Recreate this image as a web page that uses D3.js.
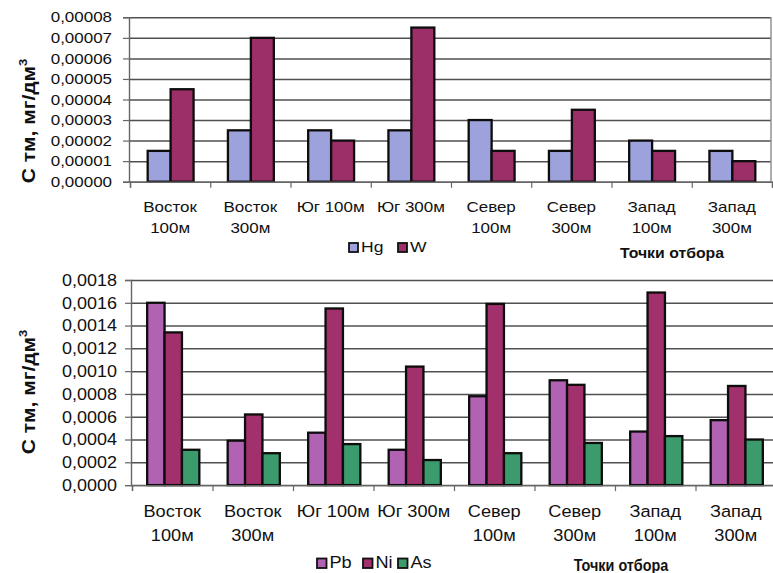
<!DOCTYPE html>
<html>
<head>
<meta charset="utf-8">
<script src="https://cdn.jsdelivr.net/npm/d3@7"></script>
<style>
  html, body { margin: 0; padding: 0; background: #fff; }
  svg { display: block; }
  text { font-family: "Liberation Sans", Arial, sans-serif; fill: #111; }
</style>
</head>
<body>
<svg id="chart" width="773" height="573"></svg>
<script>
// Sampling points (category labels, split into lines)
const sampleSites = [
  ["Восток", "100м"], ["Восток", "300м"], ["Юг 100м"], ["Юг 300м"],
  ["Север", "100м"], ["Север", "300м"], ["Запад", "100м"], ["Запад", "300м"]
];

// Upper panel: Hg and W, mg/dm3
const hgValues = [0.000015, 0.000025, 0.000025, 0.000025, 0.00003, 0.000015, 0.00002, 0.000015];
const wValues  = [0.000045, 0.00007, 0.00002, 0.000075, 0.000015, 0.000035, 0.000015, 0.00001];
const upperTicks = [0, 0.00001, 0.00002, 0.00003, 0.00004, 0.00005, 0.00006, 0.00007, 0.00008];

// Lower panel: Pb, Ni and As, mg/dm3
const pbValues = [0.0016, 0.00039, 0.00046, 0.00031, 0.00078, 0.00092, 0.00047, 0.00057];
const niValues = [0.00134, 0.00062, 0.00155, 0.00104, 0.00159, 0.00088, 0.00169, 0.00087];
const asValues = [0.00031, 0.00028, 0.00036, 0.00022, 0.00028, 0.00037, 0.00043, 0.0004];
const lowerTicks = [0, 0.0002, 0.0004, 0.0006, 0.0008, 0.0010, 0.0012, 0.0014, 0.0016, 0.0018];

const axisTitle = "С тм, мг/дм";
const xTitle = "Точки отбора";

const svg = d3.select("#chart");

function commaFormat(digits) {
  const f = d3.format("." + digits + "f");
  return v => f(v).replace(".", ",");
}

function drawPanel(cfg) {
  const n = sampleSites.length;
  const root = svg.append("g");
  const x = d3.scaleBand().domain(d3.range(n)).range(cfg.band);
  const xEdge = d3.scaleLinear().domain([0, n]).range(cfg.band);
  const y = d3.scaleLinear().domain([0, cfg.max]).range([cfg.bottom, cfg.top]);

  // horizontal gridlines
  root.append("g")
    .attr("transform", `translate(${cfg.left},0)`)
    .call(d3.axisLeft(y).tickValues(cfg.ticks).tickSize(-(cfg.gridRight - cfg.left)).tickFormat(""))
    .call(g => g.select(".domain").remove())
    .call(g => g.selectAll("line").attr("stroke", "#505050").attr("stroke-width", 1.5));

  // right border of the plot area
  root.append("line")
    .attr("x1", cfg.gridRight).attr("x2", cfg.gridRight)
    .attr("y1", y(cfg.max)).attr("y2", y(0))
    .attr("stroke", "#8a8a8a").attr("stroke-width", 1.4);

  // grouped bars
  const groupW = cfg.barFrac * x.bandwidth() * cfg.series.length;
  const inner = d3.scaleBand().domain(cfg.series.map(s => s.key)).range([0, groupW]);
  cfg.series.forEach(s => {
    root.append("g").selectAll("rect")
      .data(s.values)
      .join("rect")
      .attr("x", (d, i) => x(i) + x.bandwidth() / 2 - groupW / 2 + cfg.shift + inner(s.key))
      .attr("y", d => y(d))
      .attr("width", inner.bandwidth())
      .attr("height", d => y(0) - y(d))
      .attr("fill", s.color)
      .attr("stroke", "#0d0d0d")
      .attr("stroke-width", 2.3);
  });

  // value axis
  const yAxis = root.append("g")
    .attr("transform", `translate(${cfg.left},0)`)
    .call(d3.axisLeft(y).tickValues(cfg.ticks).tickSize(6).tickPadding(0).tickFormat(commaFormat(cfg.digits)));
  yAxis.select(".domain").attr("stroke", "#666").attr("stroke-width", 1.4);
  yAxis.selectAll(".tick line").attr("stroke", "#666").attr("stroke-width", 1.2);
  yAxis.selectAll("text")
    .attr("font-size", cfg.tickFont)
    .attr("fill", "#1a1a1a")
    .attr("x", -cfg.labelGap / cfg.sx)
    .attr("transform", `scale(${cfg.sx},1)`);

  // category axis: boundary ticks
  const xAxis = root.append("g")
    .attr("transform", `translate(0,${cfg.bottom})`)
    .call(d3.axisBottom(xEdge).tickValues(d3.range(n + 1)).tickSize(6).tickFormat(""));
  xAxis.select(".domain").attr("stroke", "#666").attr("stroke-width", 1.4);
  xAxis.selectAll(".tick line").attr("stroke", "#666").attr("stroke-width", 1.2);

  // category labels
  const labels = root.append("g")
    .attr("transform", `translate(0,${cfg.bottom})`)
    .call(d3.axisBottom(x).tickSize(0).tickFormat(""));
  labels.select(".domain").remove();
  labels.selectAll(".tick").each(function (i) {
    const t = d3.select(this).append("text")
      .attr("text-anchor", "middle")
      .attr("font-size", cfg.catFont)
      .attr("fill", "#1a1a1a")
      .attr("transform", `scale(${cfg.catSx},1)`);
    sampleSites[i].forEach((line, k) => {
      t.append("tspan").attr("x", 0).attr("y", cfg.catLines[k] - cfg.bottom).text(line);
    });
  });

  // rotated value-axis title with superscript
  const title = root.append("text")
    .attr("transform", `translate(${cfg.titleX},${cfg.titleY}) rotate(-90) scale(${cfg.titleSx},1)`)
    .attr("text-anchor", "middle")
    .attr("font-size", cfg.titleFont)
    .attr("font-weight", "bold")
    .attr("fill", "#111");
  title.append("tspan").text(axisTitle);
  title.append("tspan").attr("dy", -cfg.titleFont * 0.45).attr("font-size", cfg.titleFont * 0.62).text("3");

  // legend
  const lg = root.append("g");
  cfg.series.forEach((s, i) => {
    const item = lg.append("g").attr("transform", `translate(${cfg.legendX[i]},${cfg.legendY})`);
    item.append("rect")
      .attr("x", 0).attr("y", -cfg.legendBox)
      .attr("width", cfg.legendBox).attr("height", cfg.legendBox)
      .attr("fill", s.color).attr("stroke", "#111").attr("stroke-width", 1.8);
    item.append("text")
      .attr("x", (cfg.legendBox + 3) / cfg.catSx).attr("y", 0)
      .attr("transform", `scale(${cfg.catSx},1)`)
      .attr("font-size", cfg.legendFont)
      .attr("fill", "#1a1a1a")
      .text(s.key);
  });

  // category axis title
  root.append("text")
    .attr("transform", `translate(${cfg.xTitleX},${cfg.xTitleY}) scale(${cfg.xTitleSx},1)`)
    .attr("text-anchor", "middle")
    .attr("font-size", cfg.xTitleFont)
    .attr("font-weight", "bold")
    .attr("fill", "#111")
    .text(xTitle);
}

drawPanel({
  band: [130, 772], left: 129, gridRight: 771, top: 17.3, bottom: 181.7,
  max: 0.00008, ticks: upperTicks, digits: 5,
  barFrac: 0.286, shift: 0.5,
  series: [
    { key: "Hg", values: hgValues, color: "#9da1dc" },
    { key: "W", values: wValues, color: "#9c2f68" }
  ],
  tickFont: 14.5, sx: 1.17, labelGap: 17,
  catFont: 14.5, catSx: 1.17, catLines: [212, 233],
  titleX: 35, titleY: 121, titleFont: 17.5, titleSx: 1.2,
  legendX: [349, 398], legendY: 252, legendBox: 9, legendFont: 15,
  xTitleX: 672, xTitleY: 258, xTitleFont: 14, xTitleSx: 1.13
});

drawPanel({
  band: [132, 776], left: 131, gridRight: 776, top: 280, bottom: 485.1,
  max: 0.0018, ticks: lowerTicks, digits: 4,
  barFrac: 0.216, shift: 1,
  series: [
    { key: "Pb", values: pbValues, color: "#b262b3" },
    { key: "Ni", values: niValues, color: "#a2306c" },
    { key: "As", values: asValues, color: "#3b9b6d" }
  ],
  tickFont: 16.5, sx: 1.09, labelGap: 14,
  catFont: 17, catSx: 1.07, catLines: [517, 541],
  titleX: 35, titleY: 392, titleFont: 17.5, titleSx: 1.2,
  legendX: [317, 363, 398], legendY: 568, legendBox: 9.5, legendFont: 17,
  xTitleX: 621, xTitleY: 571, xTitleFont: 16, xTitleSx: 0.9
});
</script>
</body>
</html>
